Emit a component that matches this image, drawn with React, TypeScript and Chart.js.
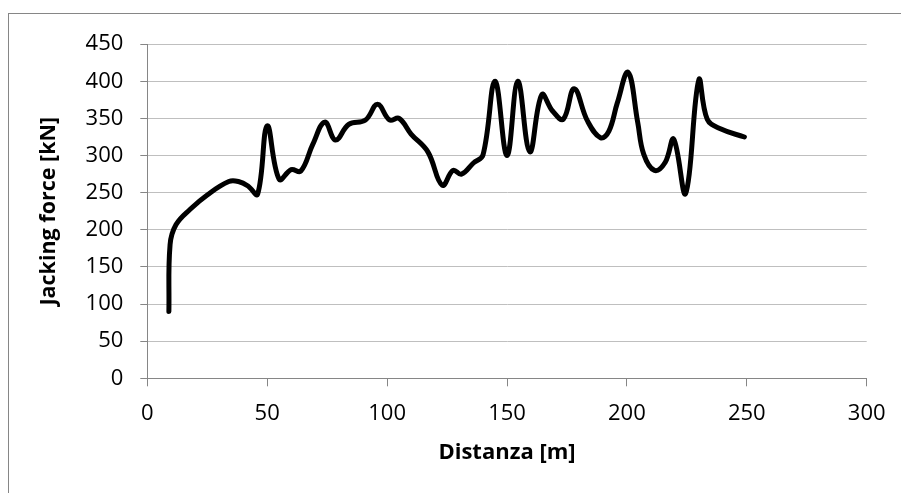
import React, { useEffect, useRef } from "react";
import { Chart, registerables } from "chart.js";

Chart.register(...registerables);

const distanza = [
  9, 9.5, 12, 18, 25, 34, 38, 42, 46, 50, 55, 60, 64, 69, 74, 78.5, 84, 91, 96, 101, 105, 110, 117,
  123, 127.5, 131, 136, 140, 145, 150, 154.5, 159.5, 164.5, 169, 173.5, 178, 183.5, 189, 192.5, 196,
  200.5, 204.5, 207, 211.5, 216, 219.5, 224.5, 230, 233.5, 239, 249,
];
const jackingForce = [
  90, 180, 207, 228, 247, 265, 265, 259, 248, 340, 268, 281, 279, 315, 345, 321, 342, 348, 369, 348,
  350, 329, 305, 260, 280, 275, 290, 301, 400, 300, 400, 305, 382, 360, 349, 390, 347, 324, 333, 371,
  412, 345, 302, 280, 291, 322, 249, 402, 349, 336, 325,
];

const X_MIN = 0;
const X_MAX = 300;
const X_STEP = 50;
const Y_MIN = 0;
const Y_MAX = 450;
const Y_STEP = 50;

const X_TITLE = "Distanza [m]";
const Y_TITLE = "Jacking force [kN]";

const FONT = "'Open Sans', 'Liberation Sans', sans-serif";

export default function App() {
  const ref = useRef<HTMLCanvasElement>(null);

  useEffect(() => {
    const points = distanza.map((x, i) => ({ x, y: jackingForce[i] }));
    const chart = new Chart(ref.current as HTMLCanvasElement, {
      type: "scatter",
      data: {
        datasets: [
          {
            data: points,
            showLine: true,
            borderColor: "#000000",
            backgroundColor: "#000000",
            borderWidth: 5,
            pointRadius: 0,
            pointHoverRadius: 0,
            tension: 0.4,
            fill: false,
            borderCapStyle: "round",
            borderJoinStyle: "round",
          },
        ],
      },
      options: {
        responsive: false,
        animation: false,
        events: [],
        layout: { padding: { left: 0, top: 28.7, right: 34.3, bottom: 0 } },
        plugins: { legend: { display: false }, tooltip: { enabled: false } },
        scales: {
          x: {
            type: "linear",
            min: X_MIN,
            max: X_MAX,
            ticks: {
              stepSize: X_STEP,
              color: "#000000",
              font: { family: FONT, size: 22 },
              padding: 14,
              maxRotation: 0,
            },
            grid: { drawOnChartArea: false, tickLength: 8, tickColor: "#868686" },
            border: { color: "#868686", width: 1 },
            title: {
              display: true,
              text: X_TITLE,
              color: "#000000",
              font: { family: FONT, size: 22, weight: "bold" },
              padding: { top: 0, bottom: 26.8 },
            },
            afterFit: (s: any) => {
              s.height = 114.7;
            },
          },
          y: {
            type: "linear",
            min: Y_MIN,
            max: Y_MAX,
            ticks: {
              stepSize: Y_STEP,
              color: "#000000",
              font: { family: FONT, size: 22 },
              padding: 17,
            },
            grid: { color: "#bfbfbf", tickLength: 7, tickColor: "#868686" },
            border: { color: "#868686", width: 1 },
            title: {
              display: true,
              text: Y_TITLE,
              color: "#000000",
              font: { family: FONT, size: 21.5, weight: "bold" },
              padding: { top: 26.6, bottom: 0 },
            },
            afterFit: (s: any) => {
              s.width = 138.3;
            },
          },
        },
      },
    });
    return () => chart.destroy();
  }, []);

  return (
    <div
      style={{
        position: "absolute",
        left: 8,
        top: 13,
        width: 893,
        height: 480,
        borderLeft: "1px solid #868686",
        borderTop: "1px solid #868686",
        background: "#ffffff",
      }}
    >
      <canvas ref={ref} width={892} height={479} style={{ display: "block" }} />
    </div>
  );
}
